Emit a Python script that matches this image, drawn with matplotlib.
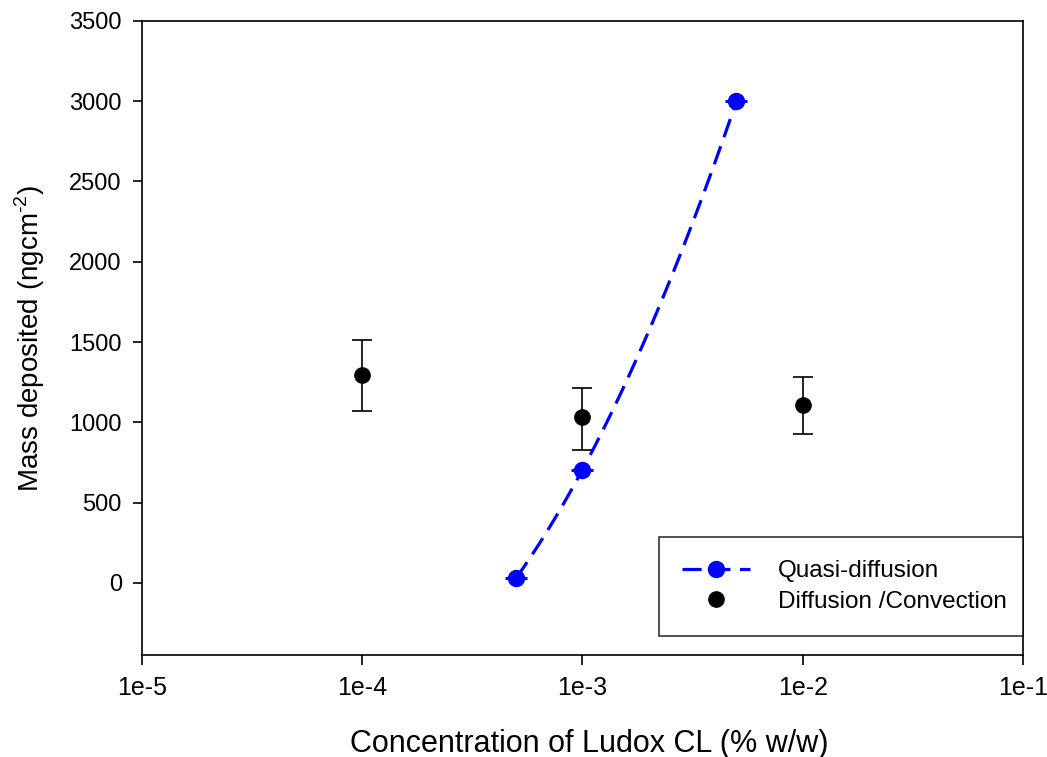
import matplotlib
matplotlib.use("Agg")
import matplotlib.pyplot as plt
import numpy as np

plt.rcParams['font.family'] = ['Liberation Sans', 'DejaVu Sans']
plt.rcParams['mathtext.fontset'] = 'custom'
plt.rcParams['mathtext.rm'] = 'Liberation Sans'

# Quasi-diffusion series (blue, fitted with a smooth dashed curve)
quasi_conc = [5e-4, 1e-3, 5e-3]
quasi_mass = [30, 705, 3000]

# Diffusion / convection series with error bars
diff_conc = [1e-4, 1e-3, 1e-2]
diff_mass = [1295, 1030, 1110]
diff_err_low = [225, 200, 185]
diff_err_high = [215, 185, 175]

x_ticks = [1e-5, 1e-4, 1e-3, 1e-2, 1e-1]
x_ticklabels = ['1e-5', '1e-4', '1e-3', '1e-2', '1e-1']
y_ticks = [0, 500, 1000, 1500, 2000, 2500, 3000, 3500]

fig = plt.figure(figsize=(10.47, 7.57), dpi=100)
ax = fig.add_axes([0.1356, 0.1347, 0.9771 - 0.1356, 0.9723 - 0.1347])

# smooth curve through the quasi-diffusion points in log-x space
lx = np.log10(quasi_conc)
coef = np.polyfit(lx, quasi_mass, 2)
xs = np.linspace(lx[0], lx[-1], 200)
ax.plot(10 ** xs, np.polyval(coef, xs), color='blue', lw=2.3,
        dashes=(6, 3), zorder=2)
ax.plot(quasi_conc, quasi_mass, ls='none', marker='_', ms=16, mew=2.2,
        color='blue', zorder=3)
ax.plot(quasi_conc, quasi_mass, ls='none', marker='o', ms=11.5,
        color='blue', zorder=4)

ax.errorbar(diff_conc, diff_mass, yerr=[diff_err_low, diff_err_high],
            fmt='o', ms=11, color='black', ecolor='black', elinewidth=1.2,
            capsize=7, capthick=1.2, zorder=3)

ax.set_xscale('log')
ax.set_xlim(1e-5, 1e-1)
ax.set_ylim(-450, 3500)
ax.set_xticks(x_ticks)
ax.set_xticklabels(x_ticklabels)
ax.minorticks_off()
ax.set_yticks(y_ticks)
ax.tick_params(axis='both', direction='out', width=1.2)
ax.tick_params(axis='x', length=7.2, pad=8, labelsize=18)
ax.tick_params(axis='y', length=6.5, pad=8, labelsize=17)
for s in ax.spines.values():
    s.set_linewidth(1.2)

fig.text(589 / 1047, 1 - 752 / 757, 'Concentration of Ludox CL (% w/w)',
         fontsize=22, ha='center', va='baseline')
fig.text(30 / 1047, 1 - 338 / 757, r'Mass deposited (ngcm$^{\text{-2}}$)',
         fontsize=20, ha='center', va='center', rotation=90)

# legend handles
h1, = ax.plot([], [], color='blue', lw=2.3, dashes=(6, 3), marker='o', ms=11.5)
h2, = ax.plot([], [], ls='none', color='black', marker='o', ms=11)
leg = ax.legend([h1, h2], ['Quasi-diffusion', 'Diffusion /Convection'],
                loc='upper left', bbox_to_anchor=(0.587, 0.186, 0.413, 0.0),
                mode='expand', fontsize=17.5, frameon=True, fancybox=False,
                edgecolor='black', handlelength=2.8, handletextpad=1.15,
                borderpad=0.95, labelspacing=0.35, borderaxespad=0)
leg.get_frame().set_linewidth(1.2)

fig.savefig('out.png', dpi=100)
